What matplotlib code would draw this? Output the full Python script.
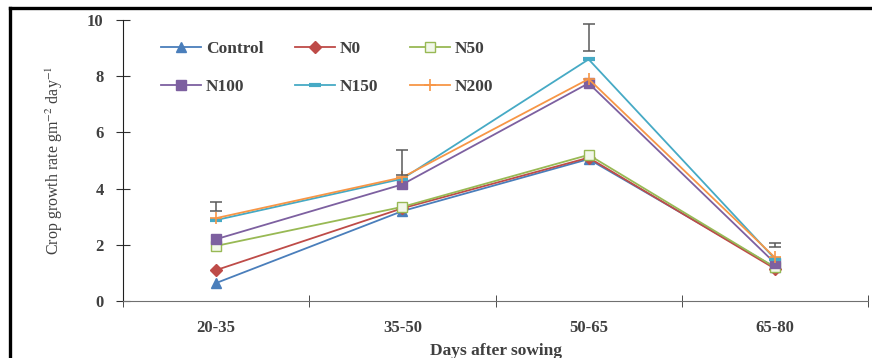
import matplotlib
matplotlib.use('Agg')
import matplotlib.pyplot as plt
from matplotlib.lines import Line2D

# Crop growth rate per sowing interval
periods = ['20-35', '35-50', '50-65', '65-80']
control = [0.64, 3.20, 5.05, 1.20]
n0 = [1.10, 3.30, 5.10, 1.15]
n50 = [1.96, 3.35, 5.20, 1.20]
n100 = [2.20, 4.15, 7.75, 1.35]
n150 = [2.88, 4.35, 8.60, 1.50]
n200 = [2.95, 4.40, 7.90, 1.55]

# floating LSD-style bars
bar_mid = [3.37, 4.93, 9.38, 2.00]
bar_half = [0.15, 0.43, 0.48, 0.07]

plt.rcParams['font.family'] = ['Liberation Serif', 'DejaVu Serif']
plt.rcParams['mathtext.fontset'] = 'stix'
txt = '#404040'

fig = plt.figure(figsize=(8.72, 3.58), dpi=100)
ax = fig.add_axes([123 / 872, 1 - 301 / 358, 745 / 872, 281 / 358])

x = list(range(len(periods)))
series = [
    ('Control', control, '#4A7EBB', dict(marker='^', ms=7, mfc='#4A7EBB', mec='#4A7EBB')),
    ('N0', n0, '#BE4B48', dict(marker='D', ms=6, mfc='#BE4B48', mec='#BE4B48')),
    ('N50', n50, '#98B954', dict(marker='s', ms=7, mfc='#F2F7EA', mec='#98B954', mew=1)),
    ('N100', n100, '#7D60A0', dict(marker='s', ms=7.5, mfc='#7D60A0', mec='#7D60A0')),
    ('N150', n150, '#46AAC5', dict(marker='_', ms=9, mew=3, mec='#46AAC5')),
    ('N200', n200, '#F79646', dict(marker='+', ms=8, mew=1.2, mec='#F79646')),
]
handles = {}
for name, vals, col, mk in series:
    h, = ax.plot(x, vals, color=col, lw=1.3, label=name, **mk)
    handles[name] = h

ax.errorbar(x, bar_mid, yerr=bar_half, fmt='none', ecolor='#5a5a5a',
            elinewidth=1.1, capsize=4, capthick=1.1)

ax.set_xlim(-0.5, 3.5)
ax.set_ylim(0, 10)
ax.set_xticks(x)
ax.set_xticklabels(periods)
ax.set_xticks([-0.5, 0.5, 1.5, 2.5, 3.5], minor=True)
ax.tick_params(axis='x', which='major', length=0, pad=14)
ax.tick_params(axis='x', which='minor', length=9, direction='inout', color='#303030')
ax.set_yticks([0, 2, 4, 6, 8, 10])
ax.tick_params(axis='y', length=10, direction='inout', pad=9, color='#303030')
for lab in ax.get_xticklabels() + ax.get_yticklabels():
    lab.set_fontweight('bold')
    lab.set_fontsize(12)
    lab.set_color(txt)

for s in ['top', 'right']:
    ax.spines[s].set_visible(False)
ax.spines['left'].set_color('#202020')
ax.spines['bottom'].set_color('#707070')

ax.set_ylabel('Crop growth rate gm$^{-2}$ day$^{-1}$', fontsize=11.5, color=txt)
ax.yaxis.set_label_coords(-0.078, 0.5)
ax.set_xlabel('Days after sowing', fontsize=12.5, fontweight='bold', color=txt)
ax.xaxis.set_label_coords(0.5, -0.15)

order = ['Control', 'N100', 'N0', 'N150', 'N50', 'N200']
leg = ax.legend([handles[n] for n in order], order, ncol=3, loc='upper left',
                bbox_to_anchor=(0.03, 0.98), frameon=False, handlelength=2.3,
                handletextpad=0.3, columnspacing=1.8, labelspacing=1.25,
                prop={'weight': 'bold', 'size': 12.5})
for t in leg.get_texts():
    t.set_color(txt)

# border of the original figure
fig.add_artist(Line2D([10 / 872, 10 / 872], [0, 1 - 8 / 358], transform=fig.transFigure,
                      color='black', lw=2.4))
fig.add_artist(Line2D([10 / 872, 1], [1 - 8 / 358, 1 - 8 / 358], transform=fig.transFigure,
                      color='black', lw=2.4))

fig.savefig('out.png', dpi=100)
